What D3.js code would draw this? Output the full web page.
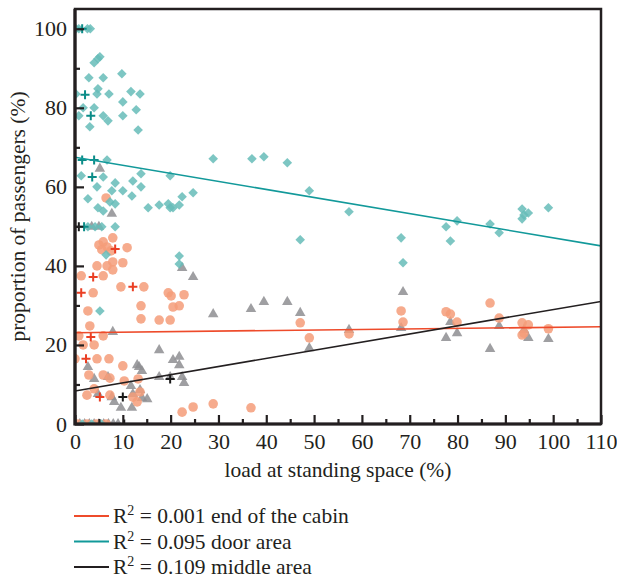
<!DOCTYPE html>
<html>
<head>
<meta charset="utf-8">
<script src="https://cdn.jsdelivr.net/npm/d3@7"></script>
<style>
  body { margin: 0; background: #fff; }
  text { font-family: "Liberation Serif", "DejaVu Serif", serif; fill: #231f20; }
</style>
</head>
<body>
<div id="chart"></div>
<script>
// end of the cabin (circles), [load %, share %]
var cabinEnd = [
    [6.5, 57.2], [7.9, 47.1], [5.9, 46.1], [5.0, 45.3], [6.7, 44.8], [5.6, 44.1], [7.5, 43.8], [10.9, 44.6],
    [7.9, 41.0], [4.6, 40.0], [6.7, 40.0], [10.0, 40.8], [7.9, 39.0], [1.3, 37.5], [5.9, 37.5],
    [9.6, 34.7], [14.4, 34.7], [3.8, 33.2], [19.5, 33.2], [20.1, 32.4], [22.8, 32.7],
    [13.8, 29.9], [20.5, 29.6], [21.8, 29.9], [2.7, 28.6], [3.1, 24.8], [13.8, 26.6], [17.6, 26.3], [19.9, 26.3],
    [0.8, 22.3], [5.9, 22.3], [1.7, 20.0], [4.0, 20.0], [0.0, 16.5], [4.6, 16.5], [7.1, 16.5],
    [10.0, 14.7], [2.9, 12.4], [5.9, 12.4], [7.3, 11.6], [10.3, 10.9], [13.2, 11.4],
    [4.0, 8.9], [13.6, 8.1], [2.5, 7.3], [7.3, 7.3], [12.1, 6.8], [13.0, 5.6], [22.4, 3.0], [24.7, 4.3],
    [28.9, 5.1], [36.8, 4.1], [47.1, 25.6], [49.0, 21.8], [57.3, 22.8],
    [68.2, 28.6], [68.6, 25.8], [77.6, 28.4], [78.5, 27.8], [79.9, 25.8], [86.8, 30.6], [88.7, 26.8],
    [93.5, 25.6], [94.8, 25.1], [93.5, 22.5], [93.9, 23.0], [99.0, 24.1],
    [0.5, 0], [2.5, 0], [4.5, 0], [6.5, 0]
];
var cabinEndMean = [[8.4, 44.3], [3.8, 37.2], [12.1, 34.7], [1.3, 33.2], [3.3, 22.0], [2.3, 16.5], [5.2, 6.8]];

// door area (diamonds)
var doorArea = [
    [0.2, 100], [0.8, 100], [2.6, 100], [3.2, 100],
    [5.2, 92.9], [4.8, 92.4], [4.0, 91.4], [2.9, 87.6], [5.9, 87.6], [9.8, 88.6],
    [4.8, 84.8], [4.6, 83.5], [7.1, 83.5], [11.7, 84.1], [13.6, 83.5], [0.2, 83.5],
    [10.0, 81.5], [4.0, 80.0], [1.7, 80.0], [12.8, 79.5], [0.8, 78.0], [5.9, 78.0], [6.9, 76.7], [10.0, 78.0],
    [3.1, 75.2], [13.2, 74.4], [6.7, 66.8], [1.3, 62.8], [5.9, 62.5],
    [4.6, 60.0], [8.4, 61.0], [13.8, 63.3], [12.1, 61.5], [7.7, 59.0], [10.0, 59.0], [13.8, 60.0], [11.9, 57.7],
    [19.9, 62.8], [2.7, 57.0], [7.3, 56.2], [8.4, 55.7], [4.8, 54.7], [5.9, 53.9],
    [15.3, 54.7], [17.6, 55.4], [19.5, 55.7], [19.9, 54.7], [20.5, 54.7], [21.8, 55.4], [22.4, 57.5], [24.7, 58.5],
    [2.7, 49.9], [4.2, 49.9], [5.6, 49.9], [8.4, 49.9], [6.5, 42.8], [21.8, 42.5], [21.8, 40.5], [5.2, 28.6],
    [28.9, 67.1], [37.0, 67.1], [39.5, 67.6], [44.4, 66.1], [49.0, 59.0], [57.3, 53.7], [47.1, 46.6],
    [68.2, 47.1], [68.6, 40.8], [77.6, 49.9], [78.5, 46.3], [79.9, 51.4], [86.8, 50.6], [88.7, 48.4],
    [93.5, 54.4], [93.5, 51.9], [93.9, 52.9], [94.8, 53.4], [99.0, 54.7],
    [1.5, 0], [3.5, 0], [5.5, 0]
];
var doorAreaMean = [[1.5, 100], [2.1, 83.3], [3.3, 78.0], [1.5, 66.8], [4.0, 66.8], [3.6, 62.5], [1.9, 49.9]];

// middle area (triangles)
var middleArea = [
    [5.2, 64.6], [7.7, 53.2], [3.5, 49.9], [5.0, 49.9], [22.4, 39.5], [24.7, 37.2], [7.9, 23.3],
    [17.6, 18.7], [20.5, 16.2], [21.8, 17.0], [21.8, 14.9], [2.7, 14.4], [13.0, 14.9], [13.4, 14.4], [14.0, 13.4],
    [4.0, 11.4], [6.9, 11.9], [17.6, 11.9], [19.9, 11.9], [22.4, 11.9], [22.8, 10.4],
    [11.7, 9.6], [13.6, 8.6], [4.8, 7.6], [7.7, 6.8], [12.1, 7.6], [14.0, 6.6], [15.1, 6.3], [8.2, 5.6], [9.6, 4.1], [11.9, 4.1],
    [28.9, 27.8], [36.8, 29.1], [39.5, 30.9], [44.4, 30.9], [47.1, 28.1], [49.0, 19.2], [57.3, 23.8],
    [68.6, 33.4], [68.2, 24.3], [78.5, 25.8], [79.9, 23.0], [77.6, 21.8], [88.7, 24.8], [86.8, 19.0],
    [93.9, 23.8], [94.8, 21.8], [99.0, 21.5],
    [0.0, 0], [1.0, 0], [2.0, 0], [3.0, 0], [4.0, 0], [5.0, 0], [6.0, 0], [7.0, 0], [8.0, 0], [9.0, 0]
];
var middleAreaMean = [[0.8, 49.9], [19.9, 11.4], [10.0, 6.8], [10.3, 0]];

// fitted lines: [intercept, slope]
var fitCabin = [23.1, 0.0136];
var fitDoor = [67.5, -0.204];
var fitMiddle = [8.35, 0.206];

var legendLabels = [["0.001", "end of the cabin"], ["0.095", "door area"], ["0.109", "middle area"]];
var xTicks = d3.range(0, 111, 10);
var xMinor = d3.range(5, 111, 10);
var yTicks = d3.range(0, 101, 20);
var yMinor = d3.range(10, 101, 20);

var chart = function () {

    var width = 617, height = 579;
    var pLeft = 75, pRight = 601, pTop = 9, pBottom = 424;

    var svg = d3.select("#chart").append("svg")
        .attr("width", width)
        .attr("height", height);

    var x = d3.scaleLinear().domain([0, 110]).range([pLeft, pRight]);
    var y = d3.scaleLinear().domain([0, 105]).range([pBottom, pTop]);

    svg.append("clipPath").attr("id", "plotClip")
        .append("rect")
        .attr("x", pLeft).attr("y", pTop)
        .attr("width", pRight - pLeft).attr("height", pBottom - pTop);

    var plot = svg.append("g").attr("clip-path", "url(#plotClip)");

    var diamond = d3.symbol().type(d3.symbolSquare).size(46);
    var circle = d3.symbol().type(d3.symbolCircle).size(72);
    var triangle = d3.symbol().type(d3.symbolTriangle).size(48);

    function drawPoints(data, sym, fill, rotate) {
        plot.append("g").selectAll("path").data(data).enter().append("path")
            .attr("d", sym)
            .attr("transform", function (d) {
                return "translate(" + x(d[0]) + "," + y(d[1]) + ")" + (rotate ? " rotate(45)" : "");
            })
            .style("fill", fill)
            .style("opacity", 0.85);
    }

    function drawPlus(data, colour) {
        plot.append("g").selectAll("path").data(data).enter().append("path")
            .attr("d", "M-4.5,0H4.5M0,-4.5V4.5")
            .attr("transform", function (d) {
                return "translate(" + x(d[0]) + "," + y(d[1]) + ")";
            })
            .style("stroke", colour)
            .style("stroke-width", 2)
            .style("fill", "none");
    }

    drawPoints(middleArea, triangle, "#8e8e92", false);
    drawPoints(cabinEnd, circle, "#f59c79", false);
    drawPoints(doorArea, diamond, "#66bcb8", true);
    drawPlus(cabinEndMean, "#ea3f24");
    drawPlus(doorAreaMean, "#0b8c88");
    drawPlus(middleAreaMean, "#1a1a1a");

    // regression lines
    var fits = [[fitCabin, "#ee4b2b"], [fitDoor, "#12999a"], [fitMiddle, "#231f20"]];
    fits.forEach(function (f) {
        plot.append("line")
            .attr("x1", x(0)).attr("y1", y(f[0][0]))
            .attr("x2", x(110)).attr("y2", y(f[0][0] + f[0][1] * 110))
            .style("stroke", f[1])
            .style("stroke-width", 1.6);
    });

    // frame
    svg.append("rect")
        .attr("x", pLeft).attr("y", pTop)
        .attr("width", pRight - pLeft).attr("height", pBottom - pTop)
        .style("fill", "none")
        .style("stroke", "#231f20")
        .style("stroke-width", 2.5);
    svg.append("path")
        .attr("d", "M" + pLeft + "," + pTop + "V" + pBottom + "H" + pRight)
        .style("fill", "none")
        .style("stroke", "#231f20")
        .style("stroke-width", 3.2);

    // axes, ticks pointing inward
    function styleAxis(g) {
        g.select(".domain").remove();
        g.selectAll("line").style("stroke", "#231f20").style("stroke-width", 2.2);
        g.selectAll("text").style("font-size", "22px").style("font-family", "'Liberation Serif', serif").style("fill", "#231f20");
    }

    svg.append("g").attr("transform", "translate(0," + pBottom + ")")
        .call(d3.axisBottom(x).tickValues(xMinor).tickSize(-5).tickFormat(""))
        .call(styleAxis);
    svg.append("g").attr("transform", "translate(0," + pBottom + ")")
        .call(d3.axisBottom(x).tickValues(xTicks).tickSize(-9).tickPadding(9).tickFormat(d3.format("d")))
        .call(styleAxis);
    svg.append("g").attr("transform", "translate(" + pLeft + ",0)")
        .call(d3.axisLeft(y).tickValues(yMinor).tickSize(-5).tickFormat(""))
        .call(styleAxis);
    svg.append("g").attr("transform", "translate(" + pLeft + ",0)")
        .call(d3.axisLeft(y).tickValues(yTicks).tickSize(-9).tickPadding(8).tickFormat(d3.format("d")))
        .call(styleAxis);

    // axis titles
    svg.append("text")
        .attr("x", (pLeft + pRight) / 2)
        .attr("y", 477)
        .attr("text-anchor", "middle")
        .style("font-size", "21.5px")
        .text("load at standing space (%)");

    svg.append("text")
        .attr("transform", "translate(25," + (pTop + pBottom) / 2 + ") rotate(-90)")
        .attr("text-anchor", "middle")
        .style("font-size", "21.5px")
        .text("proportion of passengers (%)");

    // legend
    var legendColours = ["#ee4b2b", "#12999a", "#231f20"];
    var legend = svg.append("g");
    legendLabels.forEach(function (lab, i) {
        var ly = 516 + i * 25.5;
        legend.append("line")
            .attr("x1", 74).attr("x2", 109)
            .attr("y1", ly).attr("y2", ly)
            .style("stroke", legendColours[i])
            .style("stroke-width", 1.8);
        var t = legend.append("text")
            .attr("x", 113)
            .attr("y", ly + 7)
            .style("font-size", "21.5px");
        t.append("tspan").text("R");
        t.append("tspan").attr("dy", -8).style("font-size", "14px").text("2");
        t.append("tspan").attr("dy", 8).text(" = " + lab[0] + " " + lab[1]);
    });

}();
</script>
</body>
</html>
